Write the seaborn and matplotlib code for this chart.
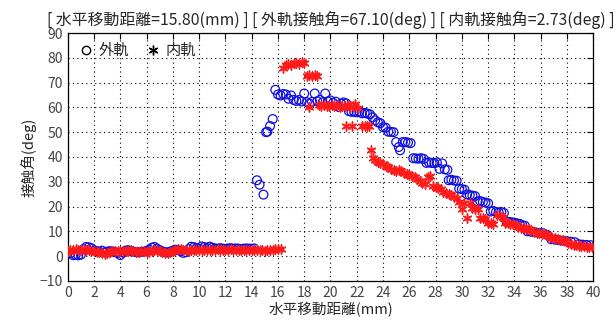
import numpy as np
import pandas as pd
import matplotlib
matplotlib.use("Agg")
import matplotlib.pyplot as plt
from matplotlib.lines import Line2D
import seaborn as sns

# outer race (blue circles): displacement (mm), contact angle (deg)
outer_x = [0.0, 0.2, 0.4, 0.6, 0.8, 1.0, 1.2, 1.4, 1.6, 1.8, 2.0, 2.2, 2.4, 2.6, 2.8, 3.0,
           3.2, 3.4, 3.6, 3.8, 4.0, 4.2, 4.4, 4.6, 4.8, 5.0, 5.2, 5.4, 5.6, 5.8, 6.0, 6.2,
           6.4, 6.6, 6.8, 7.0, 7.2, 7.4, 7.6, 7.8, 8.0, 8.2, 8.4, 8.6, 8.8, 9.0, 9.2, 9.4,
           9.6, 9.8, 10.0, 10.2, 10.4, 10.6, 10.8, 11.0, 11.2, 11.4, 11.6, 11.8, 12.0, 12.2,
           12.4, 12.6, 12.8, 13.0, 13.2, 13.4, 13.6, 13.8, 14.0, 14.2,
           14.4, 14.6, 14.9, 15.1, 15.2, 15.4, 15.6, 15.8, 16.0, 16.2, 16.4, 16.6, 16.8,
           17.0, 17.2, 17.4, 17.6, 17.8, 18.0, 18.2, 18.4, 18.6, 18.8, 19.0, 19.2, 19.4,
           19.6, 19.8, 20.0, 20.2, 20.4, 20.6, 20.8, 21.0, 21.2, 21.4, 21.6, 21.8, 22.0,
           22.2, 22.4, 22.6, 22.8, 23.0, 23.2, 23.4, 23.6, 23.8, 24.0, 24.2, 24.4, 24.6,
           24.8, 25.0, 25.2, 25.3, 25.5, 25.7, 25.9, 26.1, 26.3, 26.5, 26.7, 26.9, 27.1,
           27.3, 27.5, 27.7, 27.9, 28.1, 28.3, 28.5, 28.7, 28.9, 29.0, 29.2, 29.4, 29.6,
           29.8, 30.0, 30.2, 30.4, 30.6, 30.8, 31.0, 31.2, 31.4, 31.6, 31.8, 32.0, 32.2,
           32.4, 32.6, 32.8, 33.0, 33.2, 33.4, 33.6, 33.8, 34.0, 34.2, 34.4, 34.6, 34.8,
           35.0, 35.3, 35.6, 35.9, 36.2, 36.5, 36.8, 37.1, 37.4, 37.7, 38.0, 38.3, 38.6,
           38.9, 39.2, 39.5, 39.8]
outer_y = [1.5, 1.2, 0.4, 0.5, 0.3, 0.6, 2.8, 3.7, 3.6, 3.2, 2.3, 2.0, 1.8, 2.2, 1.5, 1.8,
           2.0, 1.9, 1.6, 1.2, 0.4, 1.4, 2.2, 2.4, 2.1, 1.8, 1.6, 1.5, 1.7, 1.8, 2.0, 2.6,
           3.4, 3.7, 3.0, 2.4, 1.9, 1.6, 1.5, 1.8, 2.2, 2.6, 2.4, 2.0, 1.3, 1.6, 2.8, 3.8,
           3.6, 3.2, 3.0, 3.9, 3.6, 3.2, 3.8, 3.4, 3.1, 3.0, 3.2, 3.0, 2.9, 3.1,
           3.2, 3.0, 3.1, 3.0, 2.9, 3.0, 3.1, 3.0, 3.0, 3.1,
           30.6, 28.8, 24.8, 50.0, 50.2, 52.5, 55.3, 67.1, 65.2, 64.8, 65.4, 65.2, 63.5,
           64.8, 63.0, 62.6, 63.0, 62.4, 65.6, 62.1, 61.5, 62.2, 65.6, 62.5, 63.0, 62.0,
           65.6, 62.4, 62.8, 61.8, 62.3, 60.2, 61.5, 62.0, 61.6, 58.5, 58.2, 58.2, 58.0,
           58.3, 57.6, 57.8, 57.5, 57.2, 56.0, 54.8, 54.0, 53.6, 52.0, 51.8, 50.2, 50.1,
           50.0, 46.0, 44.0, 42.7, 46.0, 46.0, 45.8, 45.6, 39.5, 39.4, 39.3, 39.5, 39.2,
           37.6, 37.8, 37.6, 37.5, 37.8, 35.2, 37.4, 35.0, 34.8, 30.6, 30.8, 30.5, 30.4,
           27.2, 27.0, 26.8, 24.9, 24.6, 24.4, 24.2, 22.0, 22.2, 21.8, 21.6, 21.3, 18.0,
           18.2, 17.8, 17.6, 17.8, 17.4, 14.0, 13.8, 13.6, 13.5, 13.2, 13.0, 12.5, 12.2,
           10.0, 9.8, 9.6, 9.4, 9.2, 8.6, 6.8, 6.6, 6.4, 6.2, 6.0, 5.8, 5.6,
           4.8, 4.6, 4.5, 4.4]

# inner race (red asterisks)
inner_x = [0.0, 0.2, 0.4, 0.6, 0.8, 1.0, 1.2, 1.4, 1.6, 1.8, 2.0, 2.2, 2.4, 2.6, 2.8, 3.0,
           3.2, 3.4, 3.6, 3.8, 4.0, 4.2, 4.4, 4.6, 4.8, 5.0, 5.2, 5.4, 5.6, 5.8, 6.0, 6.2,
           6.4, 6.6, 6.8, 7.0, 7.2, 7.4, 7.6, 7.8, 8.0, 8.2, 8.4, 8.6, 8.8, 9.0, 9.2, 9.4,
           9.6, 9.8, 10.0, 10.2, 10.4, 10.6, 10.8, 11.0, 11.2, 11.4, 11.6, 11.8, 12.0, 12.2,
           12.4, 12.6, 12.8, 13.0, 13.2, 13.4, 13.6, 13.8, 14.0, 14.2, 14.4, 14.6, 14.8,
           15.0, 15.2, 15.4, 15.6, 15.8, 16.0, 16.2,
           16.4, 16.6, 16.8, 17.0, 17.2, 17.4, 17.6, 17.8, 18.0, 18.2, 18.35, 18.4, 18.6,
           18.8, 19.0, 19.1, 19.3, 19.5, 19.7, 19.9, 20.1, 20.3, 20.5, 20.7, 20.9, 21.1,
           21.2, 21.3, 21.5, 21.6, 21.7, 21.9, 22.1, 22.4, 22.6, 22.8, 22.9, 23.05, 23.2,
           23.4, 23.6, 23.8, 24.0, 24.2, 24.4, 24.6, 24.8, 25.0, 25.2, 25.4, 25.6, 25.8,
           26.0, 26.2, 26.4, 26.6, 26.8, 27.0, 27.2, 27.4, 27.6, 27.8, 28.0, 28.2, 28.4,
           28.6, 28.8, 29.0, 29.2, 29.4, 29.6, 29.8, 30.0, 30.2, 30.4, 30.6, 30.8, 31.0,
           31.2, 31.4, 31.6, 31.8, 32.0, 32.2, 32.4, 32.7, 32.9, 33.1, 33.3, 33.5, 33.7,
           33.9, 34.1, 34.3, 34.5, 34.7, 34.9, 35.1, 35.3, 35.5, 35.7, 35.9, 36.1, 36.3,
           36.5, 36.7, 36.9, 37.1, 37.3, 37.5, 37.7, 37.9, 38.1, 38.3, 38.5, 38.7, 38.9,
           39.1, 39.3, 39.5, 39.7, 39.9]
inner_y = [2.0, 2.4, 2.6, 2.8, 2.5, 2.6, 2.9, 2.5, 2.4, 2.2, 2.0, 1.8, 1.6, 1.2, 0.9, 1.3,
           1.8, 2.0, 2.2, 2.1, 2.0, 2.1, 1.9, 2.2, 2.3, 2.0, 1.7, 1.8, 2.0, 1.9, 1.6, 1.8,
           2.2, 2.5, 2.3, 1.9, 1.6, 1.3, 1.2, 1.6, 2.0, 2.4, 2.8, 2.9, 2.6, 2.3, 2.2, 2.4,
           2.6, 2.5, 2.4, 2.6, 2.5, 2.3, 2.4, 2.6, 2.5, 2.7, 2.5, 2.6, 2.4, 2.5,
           2.7, 2.6, 2.5, 2.4, 2.6, 2.5, 2.4, 2.3, 2.5, 2.4, 2.3, 2.5, 2.4,
           2.2, 2.3, 2.5, 2.4, 2.7, 2.8, 2.9,
           75.8, 77.0, 77.6, 77.2, 77.8, 78.0, 77.5, 78.2, 77.8, 72.8, 60.2, 73.0, 72.6,
           73.0, 72.8, 61.0, 60.5, 60.8, 60.4, 60.6, 60.9, 60.5, 60.8, 60.2, 60.6, 60.4,
           52.5, 60.8, 60.2, 52.5, 60.5, 61.2, 59.8, 52.5, 52.5, 52.6, 52.4, 42.7, 39.5,
           38.6, 38.0, 37.6, 37.0, 36.4, 35.8, 35.2, 34.6, 34.5, 34.8, 34.2, 33.5, 33.0,
           32.6, 32.3, 31.8, 31.0, 30.2, 29.4, 29.0, 31.8, 32.2, 28.4, 28.0, 27.6, 27.2,
           26.0, 25.6, 25.2, 24.6, 23.8, 23.5, 22.0, 19.2, 21.5, 15.2, 21.3, 19.4, 19.0,
           19.2, 15.2, 15.4, 15.0, 13.4, 13.2, 13.0, 16.5, 16.2, 15.8, 13.4, 13.2, 13.0,
           12.8, 12.6, 11.6, 11.4, 11.2, 11.0, 10.8, 10.6, 9.6, 9.4, 9.2, 9.0, 8.8,
           8.6, 7.8, 7.4, 7.2, 7.0, 6.6, 6.4, 6.0, 5.2, 4.8, 4.6, 4.4, 4.2,
           4.0, 3.9, 3.8, 3.6, 3.5]

title = "[ 水平移動距離=15.80(mm) ] [ 外軌接触角=67.10(deg) ] [ 内軌接触角=2.73(deg) ]"

sns.set_style("white")
plt.rcParams['font.family'] = ['Noto Sans CJK JP', 'DejaVu Sans']

df_out = pd.DataFrame({'x': outer_x, 'y': outer_y})
df_in = pd.DataFrame({'x': inner_x, 'y': inner_y})

fig = plt.figure(figsize=(6.16, 3.27), dpi=100)
ax = fig.add_axes([0.110, 0.141, 0.853, 0.758])

sns.scatterplot(data=df_out, x='x', y='y', ax=ax, marker='o', s=40,
                facecolors='none', edgecolor='#1010e0', linewidth=0.9, zorder=3)
sns.scatterplot(data=df_in, x='x', y='y', ax=ax, marker=(6, 2, 0), s=40,
                color='#ff1a1a', edgecolor='#ff1a1a', linewidth=1.1, zorder=4)

ax.set_xlim(0, 40)
ax.set_ylim(-10, 90)
ax.set_xticks(np.arange(0, 41, 2))
ax.set_yticks(np.arange(-10, 91, 10))
ax.grid(True, linestyle=(0, (1, 3)), color='black', linewidth=0.8)
ax.tick_params(direction='in', length=4, labelsize=10, colors='black',
               labelcolor='#444444', top=True, right=True)
for s in ax.spines.values():
    s.set_color('black')
    s.set_linewidth(0.9)

ax.set_xlabel('水平移動距離(mm)', fontsize=10.5, labelpad=2)
ax.set_ylabel('接触角(deg)', fontsize=10.5, labelpad=2)
ax.set_title(title, fontsize=11.4, pad=6)

handles = [Line2D([], [], marker='o', linestyle='none', markerfacecolor='none',
                  markeredgecolor='black', markersize=6),
           Line2D([], [], marker=(6, 2, 0), linestyle='none', color='black',
                  markersize=7)]
ax.legend(handles, ['外軌', '内軌'], loc='upper left', ncol=2, frameon=False,
          fontsize=11, handletextpad=0.2, columnspacing=1.0, borderaxespad=0.2,
          handlelength=1.2)

fig.savefig('out.png', dpi=100)
